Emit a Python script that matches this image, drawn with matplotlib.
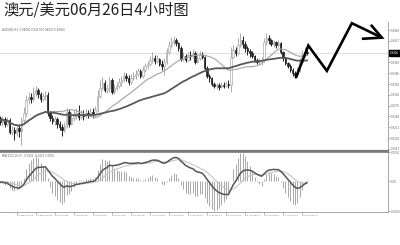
import numpy as np
import pandas as pd
import matplotlib
matplotlib.use("Agg")
import matplotlib.pyplot as plt

plt.rcParams['font.family'] = ['Noto Sans CJK SC', 'DejaVu Sans']

# ---- AUDUSD H4 bars (27 May 2014 12:00 -> 26 Jun 2014) ----
first_open = 0.9237
close = [0.9244, 0.9234, 0.9242, 0.9229, 0.9239, 0.9209, 0.9214, 0.9207, 0.9219, 0.9212,
         0.9239, 0.9257, 0.9289, 0.9297, 0.9292, 0.9307, 0.9314, 0.9304, 0.9292, 0.9299,
         0.9302, 0.9257, 0.9244, 0.9237, 0.9242, 0.9229, 0.9222, 0.9214, 0.9224, 0.9259,
         0.9229, 0.9244, 0.9249, 0.9257, 0.9247, 0.9254, 0.9249, 0.9257, 0.9252, 0.9259,
         0.9254, 0.9264, 0.9299, 0.9319, 0.9332, 0.9314, 0.9319, 0.9339, 0.9309, 0.9319,
         0.9324, 0.9334, 0.9339, 0.9349, 0.9344, 0.9334, 0.9344, 0.9349, 0.9354, 0.9362,
         0.9349, 0.9364, 0.9374, 0.9379, 0.9389, 0.9394, 0.9387, 0.9392, 0.9379, 0.9374,
         0.9384, 0.9409, 0.9427, 0.9434, 0.9439, 0.9432, 0.9419, 0.9392, 0.9399, 0.9389,
         0.9402, 0.9399, 0.9407, 0.9384, 0.9394, 0.9402, 0.9397, 0.9369, 0.9349, 0.9344,
         0.9329, 0.9324, 0.9327, 0.9322, 0.9327, 0.9324, 0.9329, 0.9327, 0.9397, 0.9414,
         0.9407, 0.9427, 0.9439, 0.9429, 0.9419, 0.9412, 0.9407, 0.9399, 0.9389, 0.9384,
         0.9387, 0.9389, 0.9434, 0.9444, 0.9439, 0.9429, 0.9434, 0.9427, 0.9432, 0.9409,
         0.9394, 0.9382, 0.9374, 0.9364, 0.9357, 0.9352, 0.9364, 0.9384, 0.9402, 0.9409,
         0.9406]
high = [0.9252, 0.9249, 0.9249, 0.9247, 0.9247, 0.9244, 0.9224, 0.9222, 0.9227, 0.9229,
        0.9247, 0.9272, 0.9302, 0.9309, 0.9307, 0.9322, 0.9324, 0.9319, 0.9309, 0.9307,
        0.9312, 0.9309, 0.9262, 0.9252, 0.9249, 0.9247, 0.9237, 0.9229, 0.9234, 0.9269,
        0.9267, 0.9259, 0.9264, 0.9269, 0.9277, 0.9264, 0.9264, 0.9267, 0.9264, 0.9269,
        0.9269, 0.9274, 0.9314, 0.9339, 0.9347, 0.9339, 0.9329, 0.9347, 0.9344, 0.9329,
        0.9334, 0.9344, 0.9349, 0.9359, 0.9357, 0.9352, 0.9354, 0.9359, 0.9364, 0.9369,
        0.9367, 0.9374, 0.9382, 0.9387, 0.9399, 0.9409, 0.9402, 0.9402, 0.9394, 0.9389,
        0.9394, 0.9419, 0.9437, 0.9447, 0.9449, 0.9444, 0.9434, 0.9424, 0.9409, 0.9404,
        0.9409, 0.9412, 0.9417, 0.9412, 0.9404, 0.9412, 0.9409, 0.9399, 0.9374, 0.9354,
        0.9347, 0.9334, 0.9332, 0.9332, 0.9334, 0.9334, 0.9337, 0.9339, 0.9422, 0.9427,
        0.9422, 0.9444, 0.9457, 0.9449, 0.9437, 0.9424, 0.9417, 0.9412, 0.9402, 0.9394,
        0.9394, 0.9397, 0.9444, 0.9457, 0.9452, 0.9442, 0.9439, 0.9437, 0.9439, 0.9434,
        0.9412, 0.9397, 0.9384, 0.9379, 0.9369, 0.9362, 0.9372, 0.9394, 0.9414, 0.9422,
        0.9417]
low = [0.9234, 0.9227, 0.9224, 0.9222, 0.9224, 0.9204, 0.9202, 0.9189, 0.9199, 0.9197,
       0.9177, 0.9229, 0.9249, 0.9279, 0.9282, 0.9287, 0.9299, 0.9294, 0.9284, 0.9287,
       0.9289, 0.9249, 0.9237, 0.9229, 0.9227, 0.9219, 0.9214, 0.9199, 0.9209, 0.9219,
       0.9222, 0.9227, 0.9237, 0.9242, 0.9239, 0.9242, 0.9239, 0.9244, 0.9244, 0.9247,
       0.9244, 0.9247, 0.9259, 0.9294, 0.9314, 0.9309, 0.9307, 0.9309, 0.9304, 0.9304,
       0.9314, 0.9319, 0.9324, 0.9334, 0.9337, 0.9327, 0.9329, 0.9339, 0.9342, 0.9349,
       0.9344, 0.9344, 0.9359, 0.9367, 0.9374, 0.9382, 0.9379, 0.9382, 0.9374, 0.9364,
       0.9352, 0.9379, 0.9404, 0.9419, 0.9427, 0.9424, 0.9412, 0.9387, 0.9387, 0.9384,
       0.9387, 0.9389, 0.9394, 0.9379, 0.9382, 0.9389, 0.9392, 0.9364, 0.9344, 0.9334,
       0.9324, 0.9319, 0.9317, 0.9314, 0.9319, 0.9319, 0.9322, 0.9319, 0.9309, 0.9394,
       0.9399, 0.9402, 0.9422, 0.9419, 0.9409, 0.9402, 0.9397, 0.9394, 0.9384, 0.9379,
       0.9377, 0.9377, 0.9384, 0.9427, 0.9429, 0.9424, 0.9422, 0.9419, 0.9422, 0.9404,
       0.9387, 0.9377, 0.9369, 0.9359, 0.9349, 0.9344, 0.9347, 0.9359, 0.9379, 0.9397,
       0.9402]

# date captions, one every 8 bars
date_labels = ["27 May 2014", "28 May 20:00", "30 May 04:00", "2 Jun 12:00", "3 Jun 20:00",
               "5 Jun 04:00", "6 Jun 12:00", "9 Jun 20:00", "11 Jun 04:00", "12 Jun 12:00",
               "13 Jun 20:00", "17 Jun 04:00", "18 Jun 12:00", "19 Jun 20:00", "23 Jun 04:00",
               "24 Jun 12:00", "25 Jun 20:00"]
price_ticks = [0.9464, 0.9437, 0.9383, 0.9356, 0.9329, 0.9302, 0.9275, 0.9248,
               0.9221, 0.9194, 0.9167]

# hand-drawn forecast path (bar index, price) and its arrow head
path_bar = [125.3, 130.6, 138.4, 148.9, 161.5]
path_price = [0.9344, 0.9425, 0.9362, 0.9481, 0.9445]
head_bar = [153.1, 161.5, 156.9]
head_price = [0.9442, 0.9445, 0.9477]

title = "澳元/美元06月26日4小时图"

# ---- derived series ----
c = pd.Series(close)
o = pd.Series([first_open] + close[:-1])
h = pd.Series(high)
l = pd.Series(low)
idx = np.arange(len(c))

ma_fast = c.rolling(21, min_periods=1).mean()
ma_slow = c.rolling(50, min_periods=1).mean()

ema12 = c.ewm(span=12, adjust=False).mean()
ema26 = c.ewm(span=26, adjust=False).mean()
macd = ema12 - ema26
signal = macd.ewm(span=9, adjust=False).mean()
osma = (macd - signal) * 3.0

# ---- figure ----
fig = plt.figure(figsize=(4, 2.45), dpi=100)
ax = fig.add_axes([0, 1 - 150.5 / 245, 388 / 400, 128.5 / 245])
ax2 = fig.add_axes([0, 1 - 212 / 245, 388 / 400, 60.5 / 245], sharex=ax)

xlim = (0.97, 164.1)
ax.set_xlim(*xlim)
ax.set_ylim(0.9163, 0.9484)

small = dict(family='DejaVu Sans', color='#666666')

# current price line
ax.axhline(close[-1], color='#e2e2e2', lw=0.9, zorder=0)

bull = c >= o
# wicks
ax.vlines(idx[bull], l[bull], h[bull], color='#ababab', lw=0.7, zorder=2)
ax.vlines(idx[~bull], l[~bull], h[~bull], color='#222222', lw=0.7, zorder=2)
# bodies
body_lo = np.minimum(o, c)
body_h = np.maximum(np.abs(c - o), 0.00005)
ax.bar(idx[bull], body_h[bull], bottom=body_lo[bull], width=0.62,
       color='white', edgecolor='#ababab', linewidth=0.5, zorder=3)
ax.bar(idx[~bull], body_h[~bull], bottom=body_lo[~bull], width=0.62,
       color='#222222', edgecolor='#222222', linewidth=0.5, zorder=3)

ax.plot(idx, ma_fast, color='#a4a4a4', lw=0.8, zorder=4)
ax.plot(idx, ma_slow, color='#595959', lw=1.3, zorder=4)

# forecast zigzag with arrow head
ax.plot(path_bar, path_price, color='black', lw=1.9, clip_on=False, zorder=6,
        solid_joinstyle='miter', solid_capstyle='butt')
ax.plot(head_bar, head_price, color='black', lw=1.9, clip_on=False, zorder=6,
        solid_joinstyle='miter', solid_capstyle='butt')

# axes styling: right price scale
for s in ('top', 'left'):
    ax.spines[s].set_visible(False)
ax.spines['right'].set_color('#9a9a9a')
ax.spines['right'].set_linewidth(0.6)
ax.spines['bottom'].set_color('#7a7a7a')
ax.spines['bottom'].set_linewidth(1.6)
ax.yaxis.tick_right()
ax.set_yticks(price_ticks)
ax.set_yticklabels([f"{p:.4f}" for p in price_ticks], **small)
ax.tick_params(axis='y', labelsize=1.9, length=1.2, width=0.4, pad=0.6,
               colors='#666666')
ax.tick_params(axis='x', bottom=False, labelbottom=False)

ax.annotate(f"{close[-1]:.4f}", xy=(1.0, close[-1]), xycoords=('axes fraction', 'data'),
            xytext=(1.6, 0), textcoords='offset points', va='center', ha='left',
            fontsize=1.9, color='white', family='DejaVu Sans',
            bbox=dict(boxstyle='square,pad=0.3', fc='black', ec='black'))

ax.text(0.005, 0.94, f"AUDUSD,H4  {o.iloc[-1]:.5f} {high[-1]:.5f} {low[-1]:.5f} {close[-1]:.5f}",
        transform=ax.transAxes, fontsize=1.9, va='center', ha='left', **small)

# ---- oscillator panel ----
ax2.vlines(idx, 0, osma, color='#a8a8a8', lw=0.7)
ax2.plot(idx, signal, color='#c6c6c6', lw=0.8)
ax2.plot(idx, macd, color='#555555', lw=1.1)
lo_v = min(macd.min(), signal.min(), osma.min())
hi_v = max(macd.max(), signal.max(), osma.max())
ax2.set_ylim(lo_v * 1.05, hi_v * 1.05)
ax2.yaxis.tick_right()
ax2.set_yticks([hi_v * 1.02, 0, lo_v * 1.02])
ax2.set_yticklabels([f"{hi_v:.4f}", "0.00", f"{lo_v:.4f}"], **small)
ax2.tick_params(axis='y', labelsize=1.9, length=1.2, width=0.4, pad=0.6,
                colors='#666666')
ax2.spines['left'].set_visible(False)
ax2.spines['top'].set_color('#7a7a7a')
ax2.spines['top'].set_linewidth(1.2)
for s in ('right', 'bottom'):
    ax2.spines[s].set_color('#9a9a9a')
    ax2.spines[s].set_linewidth(0.6)

ax2.text(0.005, 0.92,
         f"MACD(12,26,9)  {macd.iloc[-1]:.4f} {signal.iloc[-1]:.4f} {osma.iloc[-1]:.4f}",
         transform=ax2.transAxes, fontsize=1.9, va='center', ha='left', **small)

tick_pos = np.arange(0, 8 * len(date_labels), 8)
ax2.set_xticks(tick_pos)
ax2.set_xticklabels(date_labels, **small)
ax2.tick_params(axis='x', labelsize=1.7, length=1.2, width=0.4, pad=0.8,
                colors='#666666')
for t in ax2.get_xticklabels():
    t.set_ha('left')
ax2.set_xlim(*xlim)

fig.text(3 / 400, 1 - 1.5 / 245, title, fontsize=11, color='#222222', va='top', ha='left',
         family=['Noto Sans CJK SC', 'DejaVu Sans'])

fig.savefig("out.png", dpi=100, facecolor='white')
